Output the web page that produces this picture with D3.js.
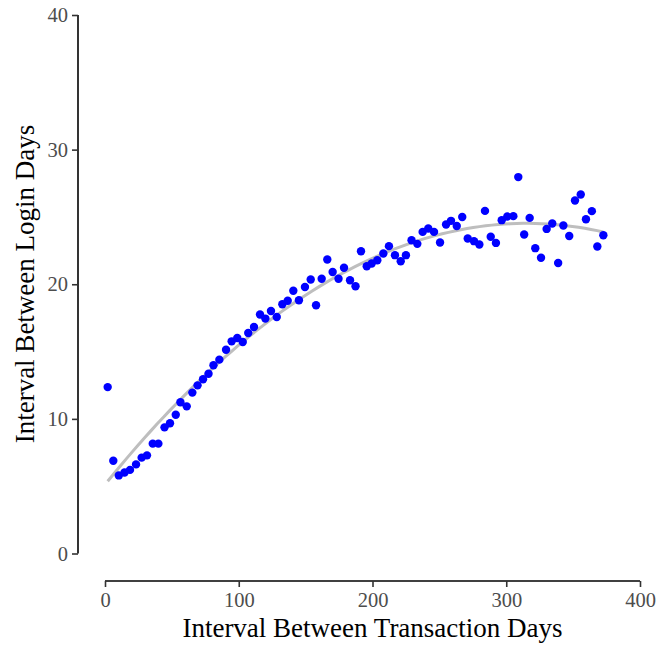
<!DOCTYPE html>
<html><head><meta charset="utf-8">
<script src="https://cdn.jsdelivr.net/npm/d3@7"></script>
<style>body{margin:0;background:#fff}</style>
</head><body>
<svg id="c" width="660" height="648"></svg>
<script>
const xValues = [2.0,6.2,10.3,14.6,18.7,23.2,27.4,31.4,35.7,39.9,44.5,48.6,52.9,56.4,61.1,65.3,69.2,73.3,77.4,81.1,85.5,90.5,94.7,98.9,103.0,107.1,111.4,115.9,119.9,124.1,128.4,132.6,136.6,140.8,145.0,149.5,153.8,157.8,162.0,166.2,170.2,174.6,178.7,183.2,187.3,191.4,195.7,199.4,203.6,208.1,212.3,216.8,221.1,225.0,229.2,233.5,237.5,241.7,246.0,250.5,255.0,258.7,263.0,267.1,271.2,275.9,279.9,284.1,288.4,292.3,296.6,300.8,305.3,309.0,313.4,317.5,321.7,326.0,330.2,334.4,338.8,342.7,347.1,351.4,355.7,359.6,364.0,368.1,372.6];
const yValues = [12.36,6.89,5.80,6.02,6.21,6.62,7.12,7.29,8.16,8.16,9.37,9.67,10.31,11.23,10.93,11.95,12.49,12.94,13.35,13.98,14.40,15.14,15.76,16.01,15.71,16.38,16.83,17.75,17.45,18.01,17.57,18.51,18.77,19.52,18.81,19.80,20.35,18.44,20.41,21.84,20.91,20.41,21.23,20.30,19.85,22.45,21.34,21.54,21.78,22.28,22.83,22.16,21.71,22.16,23.27,23.00,23.89,24.14,23.89,23.10,24.44,24.71,24.33,25.00,23.40,23.20,22.95,25.45,23.53,23.07,24.76,25.03,25.06,27.96,23.70,24.93,22.68,21.97,24.11,24.51,21.58,24.36,23.58,26.22,26.67,24.83,25.43,22.80,23.64];
const xTicks = [0,100,200,300,400];
const yTicks = [0,10,20,30,40];
const xTitle = "Interval Between Transaction Days";
const yTitle = "Interval Between Login Days";

const svg = d3.select("#c");
const x = d3.scaleLinear().domain([0,400]).range([105,640]);
const y = d3.scaleLinear().domain([0,40]).range([553.5,15]);
const font = "'Liberation Serif', 'Times New Roman', serif";

// quadratic least-squares fit (trend line derived from the data)
function quadFit(xs, ys){
  let S=[0,0,0,0,0], T=[0,0,0];
  for(let i=0;i<xs.length;i++){ let p=1; for(let k=0;k<5;k++){S[k]+=p; if(k<3)T[k]+=p*ys[i]; p*=xs[i];} }
  const A=[[S[0],S[1],S[2],T[0]],[S[1],S[2],S[3],T[1]],[S[2],S[3],S[4],T[2]]];
  for(let i=0;i<3;i++){ for(let j=i+1;j<3;j++){ const f=A[j][i]/A[i][i]; for(let k=i;k<4;k++)A[j][k]-=f*A[i][k]; } }
  const c=[0,0,0];
  for(let i=2;i>=0;i--){ let s=A[i][3]; for(let k=i+1;k<3;k++)s-=A[i][k]*c[k]; c[i]=s/A[i][i]; }
  return v=>c[0]+c[1]*v+c[2]*v*v;
}
const f = quadFit(xValues, yValues);
const xmin = d3.min(xValues), xmax = d3.max(xValues);
const fitPts = d3.range(0,81).map(i=>{const v=xmin+(xmax-xmin)*i/80; return [v,f(v)];});

const xAxis = svg.append("g").attr("transform","translate(0,581)")
  .call(d3.axisBottom(x).tickValues(xTicks).tickSize(6).tickPadding(5));
const yAxis = svg.append("g").attr("transform","translate(78,0)")
  .call(d3.axisLeft(y).tickValues(yTicks).tickSize(6).tickPadding(4));
[xAxis,yAxis].forEach(a=>{
  a.select(".domain").attr("stroke","#000").attr("stroke-width",1.6);
  a.selectAll(".tick line").attr("stroke","#333").attr("stroke-width",1.6);
  a.selectAll(".tick text").attr("fill","#4d4d4d").style("font-family",font).style("font-size","20.5px");
});
xAxis.select(".domain").attr("d", `M${x(0)},0H${x(400)}`);
yAxis.select(".domain").attr("d", `M0,${y(0)}V${y(40)}`);

svg.append("path").datum(fitPts)
  .attr("d", d3.line().x(d=>x(d[0])).y(d=>y(d[1])))
  .attr("fill","none").attr("stroke","#bebebe").attr("stroke-width",3);

svg.append("g").selectAll("circle").data(xValues.map((v,i)=>[v,yValues[i]])).join("circle")
  .attr("cx",d=>x(d[0])).attr("cy",d=>y(d[1])).attr("r",4.2).attr("fill","#0000ff");

svg.append("text").attr("x",372.5).attr("y",637).attr("text-anchor","middle")
  .style("font-family",font).style("font-size","27px").attr("fill","#000").text(xTitle);
svg.append("text").attr("transform","translate(33.5,284) rotate(-90)").attr("text-anchor","middle")
  .style("font-family",font).style("font-size","27px").attr("fill","#000").text(yTitle);
</script>
</body></html>
